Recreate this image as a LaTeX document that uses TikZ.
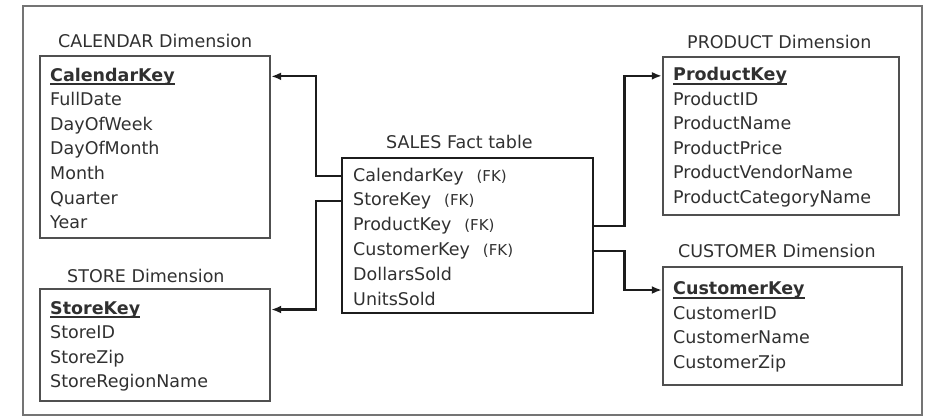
\documentclass[tikz,border=0pt]{standalone}
\usepackage{fontspec}
\setmainfont{DejaVu Sans}
\usetikzlibrary{arrows.meta}
\definecolor{txt}{HTML}{303030}
\definecolor{frame}{HTML}{747474}
\definecolor{edge}{HTML}{505050}
\definecolor{wire}{HTML}{1C1C1C}
\newcommand\pkey[1]{\setbox0\hbox{\bfseries #1}\rlap{\copy0}\rule[-4pt]{\wd0}{1.6pt}}
\newcommand\fk{\hspace{13pt}{\fontsize{15}{15}\selectfont(FK)}}

\begin{document}
\begin{tikzpicture}[x=1pt,y=-1pt,font=\fontsize{17.5}{21}\selectfont,
		tbl/.style={draw=edge,line width=2.4pt,inner sep=0},
		row/.style={anchor=base west,inner sep=0,text=txt},
		ttl/.style={anchor=base west,inner sep=0,text=txt},
		conn/.style={draw=wire,line width=2.2pt,-{Latex[length=10pt,width=8pt]}}]
			\useasboundingbox (0,0) rectangle (933,418);
			\draw[frame,line width=1.8pt] (23,6) rectangle (922,415);

			% dimension and fact tables
			\node[tbl,minimum width=230pt,minimum height=182pt] (cal) at (155,147) {};
			\node[tbl,minimum width=230pt,minimum height=112pt] (store) at (155,345) {};
			\node[tbl,draw=wire,line width=2.8pt,minimum width=251pt,minimum height=155pt] (sales) at (467.5,235.5) {};
			\node[tbl,minimum width=236pt,minimum height=158pt] (prod) at (781,136) {};
			\node[tbl,minimum width=239pt,minimum height=118pt] (cust) at (782.5,326) {};

			\node[ttl] (cal_title) at (58,47.5) {CALENDAR Dimension};
			\node[ttl] (store_title) at (67,282.5) {STORE Dimension};
			\node[ttl] (sales_title) at (386,148) {SALES Fact table};
			\node[ttl] (prod_title) at (687,48) {PRODUCT Dimension};
			\node[ttl] (cust_title) at (678,257) {CUSTOMER Dimension};

			% CALENDAR rows
			\node[row] (cal_key) at (50,81) {\pkey{CalendarKey}};
			\node[row] (cal_date) at (50,105.6) {FullDate};
			\node[row] (cal_dow) at (50,130.2) {DayOfWeek};
			\node[row] (cal_dom) at (50,154.8) {DayOfMonth};
			\node[row] (cal_month) at (50,179.4) {Month};
			\node[row] (cal_quarter) at (50,204) {Quarter};
			\node[row] (cal_year) at (50,228.6) {Year};

			% STORE rows
			\node[row] (store_key) at (50,314) {\pkey{StoreKey}};
			\node[row] (store_id) at (50,338.6) {StoreID};
			\node[row] (store_zip) at (50,363.2) {StoreZip};
			\node[row] (store_region) at (50,387.8) {StoreRegionName};

			% SALES rows
			\node[row] (sales_cal) at (353,181) {CalendarKey\fk};
			\node[row] (sales_store) at (353,205.8) {StoreKey\fk};
			\node[row] (sales_prod) at (353,230.6) {ProductKey\fk};
			\node[row] (sales_cust) at (353,255.4) {CustomerKey\fk};
			\node[row] (sales_dollars) at (353,280.2) {DollarsSold};
			\node[row] (sales_units) at (353,305) {UnitsSold};

			% PRODUCT rows
			\node[row] (prod_key) at (673,80.5) {\pkey{ProductKey}};
			\node[row] (prod_id) at (673,105.1) {ProductID};
			\node[row] (prod_name) at (673,129.7) {ProductName};
			\node[row] (prod_price) at (673,154.3) {ProductPrice};
			\node[row] (prod_vendor) at (673,178.9) {ProductVendorName};
			\node[row] (prod_cat) at (673,203.5) {ProductCategoryName};

			% CUSTOMER rows
			\node[row] (cust_key) at (673,294.5) {\pkey{CustomerKey}};
			\node[row] (cust_id) at (673,319.1) {CustomerID};
			\node[row] (cust_name) at (673,343.7) {CustomerName};
			\node[row] (cust_zip) at (673,368.3) {CustomerZip};

			% foreign keys
			\draw[conn] (sales.west |- sales_cal.west) -- ++(-25,0) |- (cal.east |- cal_key.west);
			\draw[conn] (sales.west |- sales_store.west) -- ++(-25,0) |- (store.east |- store_key.west);
			\draw[conn] (sales.east |- sales_prod.west) -- ++(30,0) |- (prod.west |- prod_key.west);
			\draw[conn] (sales.east |- sales_cust.west) -- ++(30,0) |- (cust.west |- cust_key.west);
		\end{tikzpicture}
\end{document}
